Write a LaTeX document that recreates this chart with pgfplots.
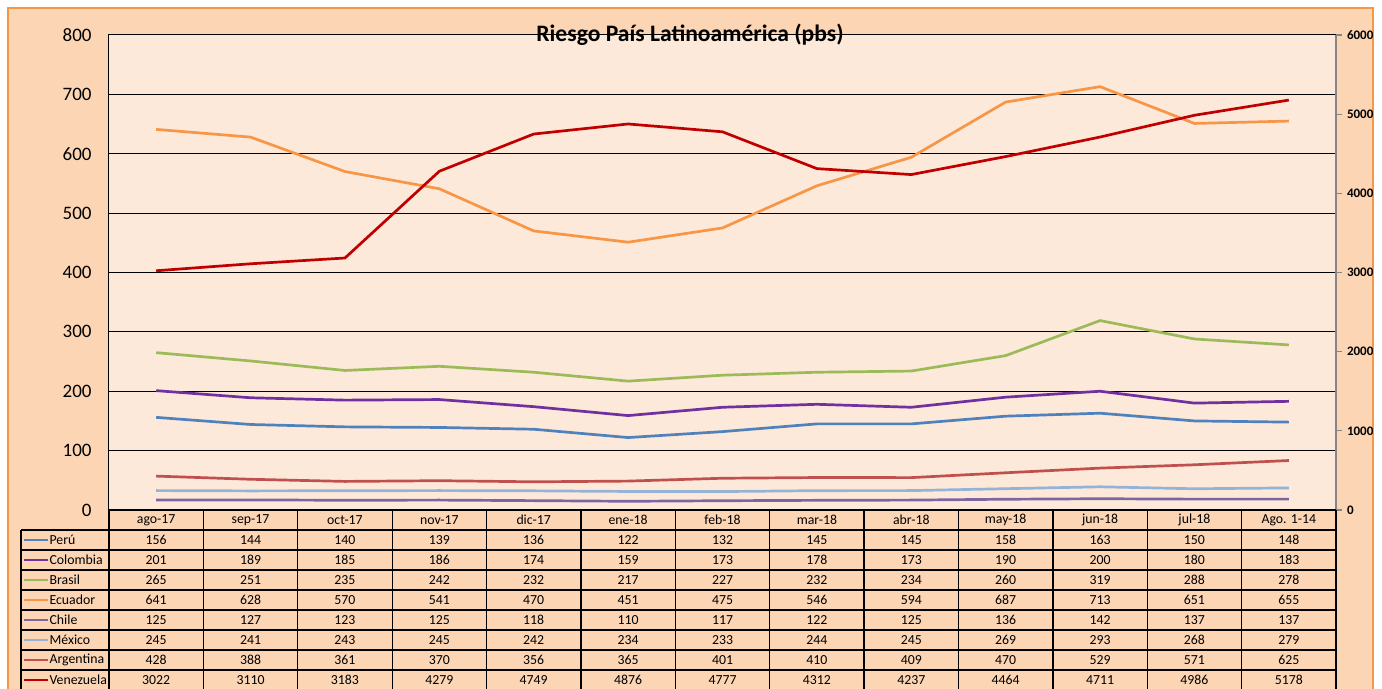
\documentclass[border=0pt]{standalone}
\usepackage{pgfplots}
\pgfplotsset{compat=1.18}
\usepackage{pgfplotstable}
\usepackage{fontspec}
\setmainfont{Carlito}
\definecolor{outerbg}{HTML}{FCD5B4}
\definecolor{plotbg}{HTML}{FDE9D9}
\definecolor{framec}{HTML}{F79646}
\definecolor{cperu}{HTML}{4F81BD}
\definecolor{ccol}{HTML}{7030A0}
\definecolor{cbra}{HTML}{9BBB59}
\definecolor{cecu}{HTML}{F79646}
\definecolor{cchi}{HTML}{8064A2}
\definecolor{cmex}{HTML}{95B3D7}
\definecolor{carg}{HTML}{C0504D}
\definecolor{cven}{HTML}{C00000}
\definecolor{axgray}{HTML}{868686}

\pgfplotstableread[col sep=comma]{
idx,label,peru,colombia,brasil,ecuador,chile,mexico,argentina,venezuela
0,ago-17,156,201,265,641,125,245,428,3022
1,sep-17,144,189,251,628,127,241,388,3110
2,oct-17,140,185,235,570,123,243,361,3183
3,nov-17,139,186,242,541,125,245,370,4279
4,dic-17,136,174,232,470,118,242,356,4749
5,ene-18,122,159,217,451,110,234,365,4876
6,feb-18,132,173,227,475,117,233,401,4777
7,mar-18,145,178,232,546,122,244,410,4312
8,abr-18,145,173,234,594,125,245,409,4237
9,may-18,158,190,260,687,136,269,470,4464
10,jun-18,163,200,319,713,142,293,529,4711
11,jul-18,150,180,288,651,137,268,571,4986
12,Ago. 1-14,148,183,278,655,137,279,625,5178
}\data

\begin{document}
\begin{tikzpicture}
\useasboundingbox (0,0) rectangle (691pt,344.5pt);
\fill[white] (0,0) rectangle (691pt,344.5pt);
\filldraw[fill=outerbg, draw=framec, line width=1pt] (3.8pt,-5pt) rectangle (686.6pt,340.7pt);

\begin{axis}[
  at={(54.5pt,89.5pt)}, anchor=south west, scale only axis,
  width=613.5pt, height=237.5pt,
  xmin=-0.5, xmax=12.5, ymin=0, ymax=800,
  ytick={0,100,...,800}, xtick={0,...,12},
  xticklabels from table={\data}{label},
  ymajorgrids, major grid style={black, line width=0.5pt},
  axis line style={black, line width=0.5pt},
  axis background/.style={fill=plotbg},
  major tick length=0pt, tick style={draw=none},
  /pgf/number format/assume math mode=true,
  yticklabel style={font=\fontsize{9.5}{11}\selectfont, anchor=east, inner sep=0pt, xshift=-8.5pt},
  xticklabel style={font=\fontsize{6.9}{8}\selectfont, anchor=center, inner sep=0pt, yshift=-5pt},
  clip=false,
]
\addplot[cperu, line width=1.35pt, mark=none] table[x=idx,y=peru]{\data};
\addplot[ccol, line width=1.35pt, mark=none] table[x=idx,y=colombia]{\data};
\addplot[cbra, line width=1.35pt, mark=none] table[x=idx,y=brasil]{\data};
\addplot[cecu, line width=1.35pt, mark=none] table[x=idx,y=ecuador]{\data};
\end{axis}

\begin{axis}[
  at={(54.5pt,89.5pt)}, anchor=south west, scale only axis,
  width=613.5pt, height=237.5pt,
  xmin=-0.5, xmax=12.5, ymin=0, ymax=6000,
  axis x line=none, axis y line*=right,
  ytick={0,1000,...,6000}, scaled y ticks=false,
  axis line style={axgray, line width=0.7pt},
  tick style={axgray, line width=0.6pt},
  tick align=outside, major tick length=3pt,
  /pgf/number format/assume math mode=true,
  /pgf/number format/1000 sep={},
  yticklabel style={font=\bfseries\fontsize{6.5}{7}\selectfont, anchor=west, inner sep=0pt, xshift=2.3pt},
]
\addplot[cchi, line width=1.35pt, mark=none] table[x=idx,y=chile]{\data};
\addplot[cmex, line width=1.35pt, mark=none] table[x=idx,y=mexico]{\data};
\addplot[carg, line width=1.35pt, mark=none] table[x=idx,y=argentina]{\data};
\addplot[cven, line width=1.35pt, mark=none] table[x=idx,y=venezuela]{\data};
\end{axis}

\node[font=\bfseries\fontsize{11.8}{13}\selectfont, inner sep=0pt] at (345pt,327pt) {Riesgo País Latinoamérica (pbs)};

% data table grid
\foreach \i in {0,...,13} {
  \draw[black, line width=0.65pt] ({54.5pt+\i*47.1923pt},89.5pt) -- ({54.5pt+\i*47.1923pt},-1pt);
}
\draw[black, line width=0.65pt] (10.5pt,79.5pt) -- (10.5pt,-1pt);
\foreach \k in {0,...,7} {
  \draw[black, line width=0.65pt] (10.5pt,{79.5pt-\k*10pt}) -- (668pt,{79.5pt-\k*10pt});
}
\draw[black, line width=0.6pt] (54.5pt,89.5pt) -- (668pt,89.5pt);

\foreach \r/\col/\name/\cc in {0/peru/Perú/cperu,1/colombia/Colombia/ccol,2/brasil/Brasil/cbra,3/ecuador/Ecuador/cecu,4/chile/Chile/cchi,5/mexico/México/cmex,6/argentina/Argentina/carg,7/venezuela/Venezuela/cven} {
  \draw[\cc, line width=1.4pt] (12pt,{74.5pt-\r*10pt}) -- (24pt,{74.5pt-\r*10pt});
  \node[anchor=west, inner sep=0pt, font=\fontsize{6.9}{8}\selectfont] at (24.6pt,{74.5pt-\r*10pt}) {\name};
  \foreach \i in {0,...,12} {
    \pgfplotstablegetelem{\i}{\col}\of\data
    \node[inner sep=0pt, font=\fontsize{6.9}{8}\selectfont] at ({54.5pt+(\i+0.5)*47.1923pt},{74.5pt-\r*10pt}) {\pgfplotsretval};
  }
}
\end{tikzpicture}
\end{document}
